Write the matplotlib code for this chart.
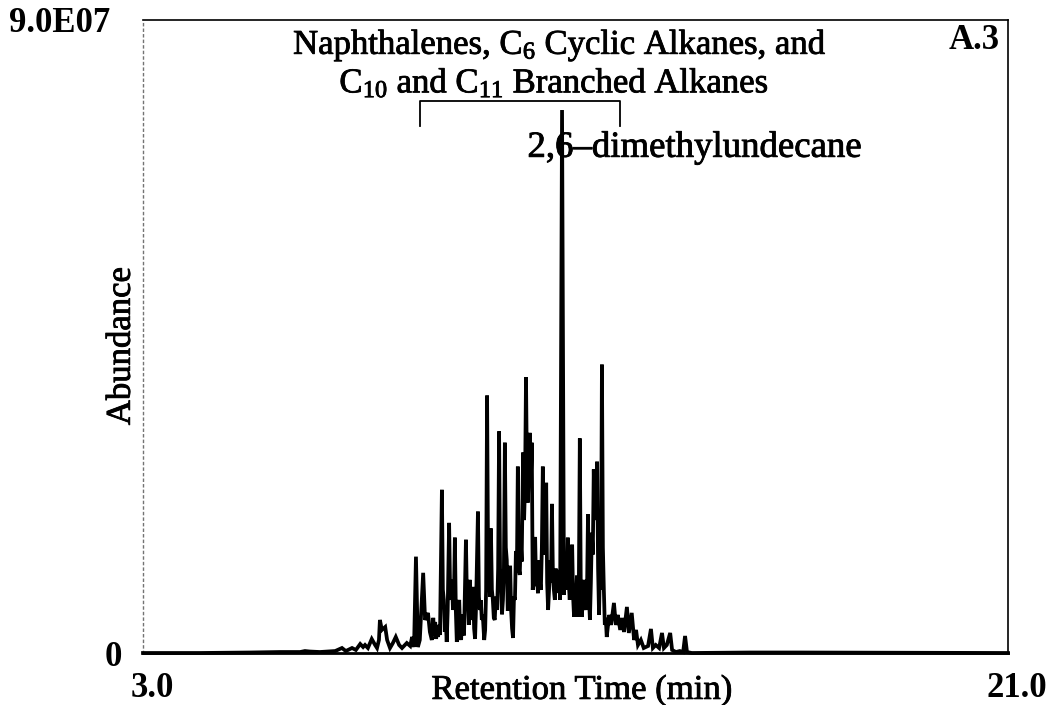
import matplotlib
matplotlib.use("Agg")
import matplotlib.pyplot as plt
import matplotlib.patheffects as pe
from matplotlib.transforms import ScaledTranslation

plt.rcParams["font.family"] = ["Liberation Serif", "DejaVu Serif"]
plt.rcParams["mathtext.fontset"] = "custom"
plt.rcParams["mathtext.rm"] = "Liberation Serif"

# Total ion chromatogram, trace vertices: retention time (min) and abundance (1e6 counts)
# early baseline and first small peaks
time_early = [3.00, 4.19, 5.23, 5.85, 6.27, 6.37, 6.47, 6.68, 7.00, 7.14,
              7.22, 7.35, 7.43, 7.52, 7.58, 7.62, 7.68, 7.76, 7.83, 7.87,
              7.91, 7.93, 7.97, 8.04, 8.08, 8.14, 8.20, 8.26, 8.33, 8.39,
              8.45, 8.49, 8.56, 8.60, 8.64]
abund_early = [0.00, 0.00, 0.07, 0.14, 0.14, 0.28, 0.21, 0.14, 0.28, 0.71,
               0.28, 0.71, 0.43, 1.28, 0.85, 1.14, 0.71, 1.99, 1.14, 0.71,
               1.85, 4.70, 3.28, 3.70, 1.85, 0.71, 1.42, 2.28, 1.14, 0.71,
               1.14, 1.42, 1.00, 2.28, 0.85]

# naphthalene / cyclic alkane cluster
time_left = [8.68, 8.72, 8.76, 8.83, 8.87, 8.93, 8.97, 9.01, 9.04, 9.06,
             9.08, 9.10, 9.12, 9.14, 9.16, 9.18, 9.22, 9.24, 9.26, 9.28,
             9.30, 9.32, 9.34, 9.37, 9.39, 9.41, 9.43, 9.45, 9.47, 9.49,
             9.51, 9.53, 9.55, 9.58, 9.60, 9.62, 9.64, 9.66, 9.68, 9.72,
             9.74, 9.76, 9.78, 9.80, 9.82, 9.84, 9.87, 9.89, 9.91, 9.93,
             9.97, 9.99, 10.01, 10.03, 10.05, 10.07, 10.10, 10.12, 10.14, 10.16,
             10.18, 10.20, 10.22, 10.24, 10.26, 10.28, 10.30, 10.32, 10.34, 10.37,
             10.39, 10.41, 10.43, 10.45, 10.47, 10.49, 10.51, 10.53, 10.55, 10.57,
             10.59, 10.62, 10.64, 10.66, 10.68, 10.70]
abund_left = [13.7, 0.85, 1.85, 11.4, 4.70, 5.70, 2.99, 1.85, 5.00, 2.50,
              4.41, 2.00, 3.50, 2.28, 4.00, 2.56, 23.2, 9.00, 7.55, 3.00,
              4.70, 1.57, 6.00, 18.5, 9.00, 7.55, 10.4, 6.12, 8.00, 16.4,
              6.00, 1.57, 5.00, 7.55, 3.00, 1.85, 5.50, 4.70, 2.50, 16.1,
              8.00, 7.55, 4.00, 10.4, 4.70, 6.00, 9.40, 3.50, 2.00, 6.50,
              20.1, 8.00, 6.12, 7.50, 4.70, 5.50, 1.85, 3.28, 9.00, 36.6,
              14.0, 13.2, 8.00, 17.7, 9.00, 7.55, 5.00, 4.70, 8.00, 6.12,
              12.0, 31.5, 12.0, 10.4, 5.50, 7.55, 12.0, 29.9, 15.0, 13.2,
              6.00, 7.55, 12.4, 6.12, 3.50, 2.14]

# branched alkane cluster on the unresolved hump
time_mid = [10.72, 10.74, 10.76, 10.78, 10.80, 10.82, 10.84, 10.86, 10.88, 10.91,
            10.93, 10.95, 10.97, 10.99, 11.01, 11.03, 11.05, 11.07, 11.09, 11.11,
            11.13, 11.16, 11.18, 11.20, 11.22, 11.24, 11.26, 11.28, 11.30, 11.32,
            11.34, 11.36, 11.37, 11.39, 11.41, 11.43, 11.45, 11.47, 11.49, 11.51,
            11.53, 11.55, 11.57, 11.59, 11.61, 11.64, 11.66, 11.68, 11.72, 11.76,
            11.78, 11.80, 11.82, 11.84, 11.86, 11.88, 11.90, 11.93, 11.95, 11.97,
            11.99, 12.01, 12.03, 12.05, 12.07, 12.09, 12.11, 12.13, 12.16, 12.18,
            12.20, 12.22, 12.24, 12.26, 12.28, 12.30, 12.32, 12.34, 12.36, 12.38,
            12.40, 12.42, 12.45, 12.47, 12.49, 12.51, 12.53, 12.55, 12.57, 12.59,
            12.61, 12.63, 12.65]
abund_mid = [8.00, 7.55, 14.5, 11.4, 26.5, 12.0, 11.1, 16.0, 13.0, 28.5,
             18.9, 24.0, 39.2, 25.0, 21.4, 27.0, 31.3, 24.0, 29.9, 8.97,
             12.0, 16.5, 9.50, 10.4, 8.50, 13.2, 10.0, 8.97, 15.0, 26.5,
             17.0, 18.9, 14.0, 24.2, 10.0, 6.12, 9.00, 13.2, 10.0, 21.2,
             11.0, 8.97, 7.55, 12.0, 8.54, 10.0, 11.8, 7.55, 77.2, 8.26,
             13.0, 11.8, 9.00, 16.4, 10.0, 7.55, 12.0, 15.4, 8.00, 5.13,
             9.00, 7.55, 11.0, 5.13, 10.0, 30.5, 9.00, 5.13, 8.00, 10.4,
             7.00, 6.12, 9.00, 19.7, 8.00, 4.70, 10.0, 17.1, 14.0, 26.1,
             18.9, 22.0, 27.2, 12.0, 5.41, 13.2, 9.00, 41.0, 15.0, 8.97,
             3.99, 5.00, 2.28]

# late eluting tail and baseline
time_tail = [12.70, 12.74, 12.80, 12.84, 12.88, 12.93, 12.97, 13.01, 13.07, 13.11,
             13.17, 13.22, 13.26, 13.30, 13.36, 13.42, 13.51, 13.57, 13.61, 13.67,
             13.74, 13.80, 13.84, 13.90, 13.97, 14.01, 14.09, 14.17, 14.24, 14.28,
             14.32, 14.42, 15.63, 16.67, 21.00]
abund_tail = [5.41, 3.99, 7.12, 3.99, 5.41, 3.28, 4.98, 2.99, 6.55, 2.85,
              5.70, 1.85, 3.28, 1.14, 1.85, 0.71, 1.00, 3.42, 0.71, 1.14,
              0.71, 2.85, 0.71, 1.14, 2.85, 0.43, 0.14, 0.28, 0.14, 2.42,
              0.14, 0.00, 0.07, 0.07, 0.00]

SCALE = 1e6

x_ticks = [3.0, 21.0]
x_tick_labels = ["3.0", "21.0"]
y_ticks = [0.0, 9.0e7]
y_tick_labels = ["0", "9.0E07"]

# Bracket spanning the co-eluting group, and the labelled peak
group_start, group_end = 8.76, 12.93
bracket_top, bracket_foot = 78.5e6, 74.9e6
peak_label = "2,6\u2013dimethylundecane"
peak_label_pos = (11.00, 71.9e6)

segments = [(time_early, abund_early), (time_left, abund_left),
            (time_mid, abund_mid), (time_tail, abund_tail)]
ret_time, abundance = [], []
for t_seg, a_seg in segments:
    if len(t_seg) != len(a_seg):
        raise ValueError("segment length mismatch")
    ret_time += t_seg
    abundance += [a * SCALE for a in a_seg]

# slightly heavier strokes for the regular-weight lettering
heavy = [pe.withStroke(linewidth=0.6, foreground="black")]

fig = plt.figure(figsize=(10.51, 7.05), dpi=100)
ax = fig.add_axes([143 / 1051, 52 / 705, 865 / 1051, 633 / 705])

ax.plot(ret_time, abundance, color="black", lw=2.7,
        solid_joinstyle="miter", clip_on=False, zorder=3)

ax.set_xlim(x_ticks[0], x_ticks[-1])
ax.set_ylim(y_ticks[0], y_ticks[-1])

ax.set_xticks(x_ticks)
ax.set_xticklabels(x_tick_labels, fontsize=25, fontweight="bold")
ax.set_yticks(y_ticks)
ax.set_yticklabels(y_tick_labels, fontsize=25, fontweight="bold")
ax.tick_params(axis="x", length=0, pad=14)
ax.tick_params(axis="y", length=0, pad=15)

for lab in ax.get_xticklabels():
    lab.set_transform(lab.get_transform() + ScaledTranslation(9 / 100, 0, fig.dpi_scale_trans))
ylabs = ax.get_yticklabels()
ylabs[1].set_transform(ylabs[1].get_transform() + ScaledTranslation(-12 / 100, 0, fig.dpi_scale_trans))

for side in ("top", "right", "bottom"):
    ax.spines[side].set_color("black")
    ax.spines[side].set_linewidth(1.2)
ax.spines["bottom"].set_linewidth(2.0)
ax.spines["left"].set_color("0.45")
ax.spines["left"].set_linewidth(1.0)
ax.spines["left"].set_linestyle((0, (1.5, 2.5)))

ax.set_xlabel("Retention Time (min)", fontsize=25, path_effects=heavy)
ax.set_ylabel("Abundance", fontsize=25, path_effects=heavy)
ax.xaxis.set_label_coords(0.5075, -0.033)
ax.yaxis.set_label_coords(-0.006, 0.485)

ax.text(11.68, 9.0e7 * (653 - 45) / 633, r"Naphthalenes, C$\mathregular{_6}$ Cyclic Alkanes, and",
        ha="center", va="center", fontsize=25, path_effects=heavy)
ax.text(11.56, 9.0e7 * (653 - 83) / 633, r"C$\mathregular{_{10}}$ and C$\mathregular{_{11}}$ Branched Alkanes",
        ha="center", va="center", fontsize=25, path_effects=heavy)
ax.plot([group_start, group_start, group_end, group_end],
        [bracket_foot, bracket_top, bracket_top, bracket_foot],
        color="black", lw=1.3, clip_on=False)
ax.text(peak_label_pos[0], peak_label_pos[1], peak_label, ha="left", va="center",
        fontsize=26.5, path_effects=heavy)
ax.text(0.991, 0.968, "A.3", transform=ax.transAxes, ha="right", va="center",
        fontsize=25, fontweight="bold")

fig.savefig("out.png", dpi=100)
